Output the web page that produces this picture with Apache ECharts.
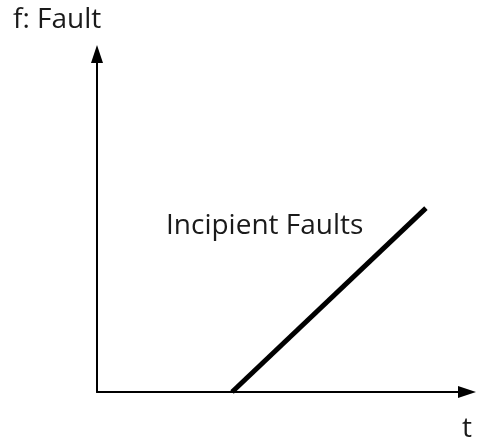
<!DOCTYPE html>
<html>
<head>
<meta charset="utf-8">
<script src="https://cdn.jsdelivr.net/npm/echarts@6/dist/echarts.min.js"></script>
<style>
  html, body { margin: 0; padding: 0; background: #fff; }
  #main { width: 477px; height: 442px; }
</style>
</head>
<body>
<div id="main"></div>
<script>
  // 数据
  var timeValues = [36.5, 88.9];
  var faultValues = [0, 54.4];
  var yName = 'f: Fault';
  var xName = 't';
  var seriesName = 'Incipient Faults';

  var chart = echarts.init(document.getElementById('main'));

  var points = timeValues.map(function (t, i) {
    return [t, faultValues[i]];
  });

  var axisCommon = {
    type: 'value',
    min: 0,
    max: 100,
    axisLine: {
      show: true,
      symbol: ['none', 'triangle'],
      symbolSize: [12, 18],
      symbolOffset: [0, 0],
      lineStyle: { color: '#000', width: 2 }
    },
    axisTick: { show: false },
    axisLabel: { show: false },
    splitLine: { show: false }
  };

  var option = {
    animation: false,
    grid: {
      left: 97,
      right: 10,
      top: 54,
      bottom: 50
    },
    xAxis: axisCommon,
    yAxis: axisCommon,
    // 文字
    graphic: [{
        type: 'text',
        left: 13,
        top: 6,
        style: {
          text: yName,
          font: '28px "Open Sans"',
          fill: '#1a1a1a'
        }
      },
      {
        type: 'text',
        left: 462,
        top: 415,
        style: {
          text: xName,
          font: '28px "Open Sans"',
          fill: '#1a1a1a'
        }
      },
      {
        type: 'text',
        left: 166,
        top: 212,
        style: {
          text: seriesName,
          font: '28px "Open Sans"',
          fill: '#1a1a1a'
        }
      }
    ],
    series: [{
      name: seriesName,
      type: 'line',
      data: points,
      symbol: 'none',
      lineStyle: {
        color: '#000',
        width: 5
      }
    }]
  };
  chart.setOption(option);
</script>
</body>
</html>
